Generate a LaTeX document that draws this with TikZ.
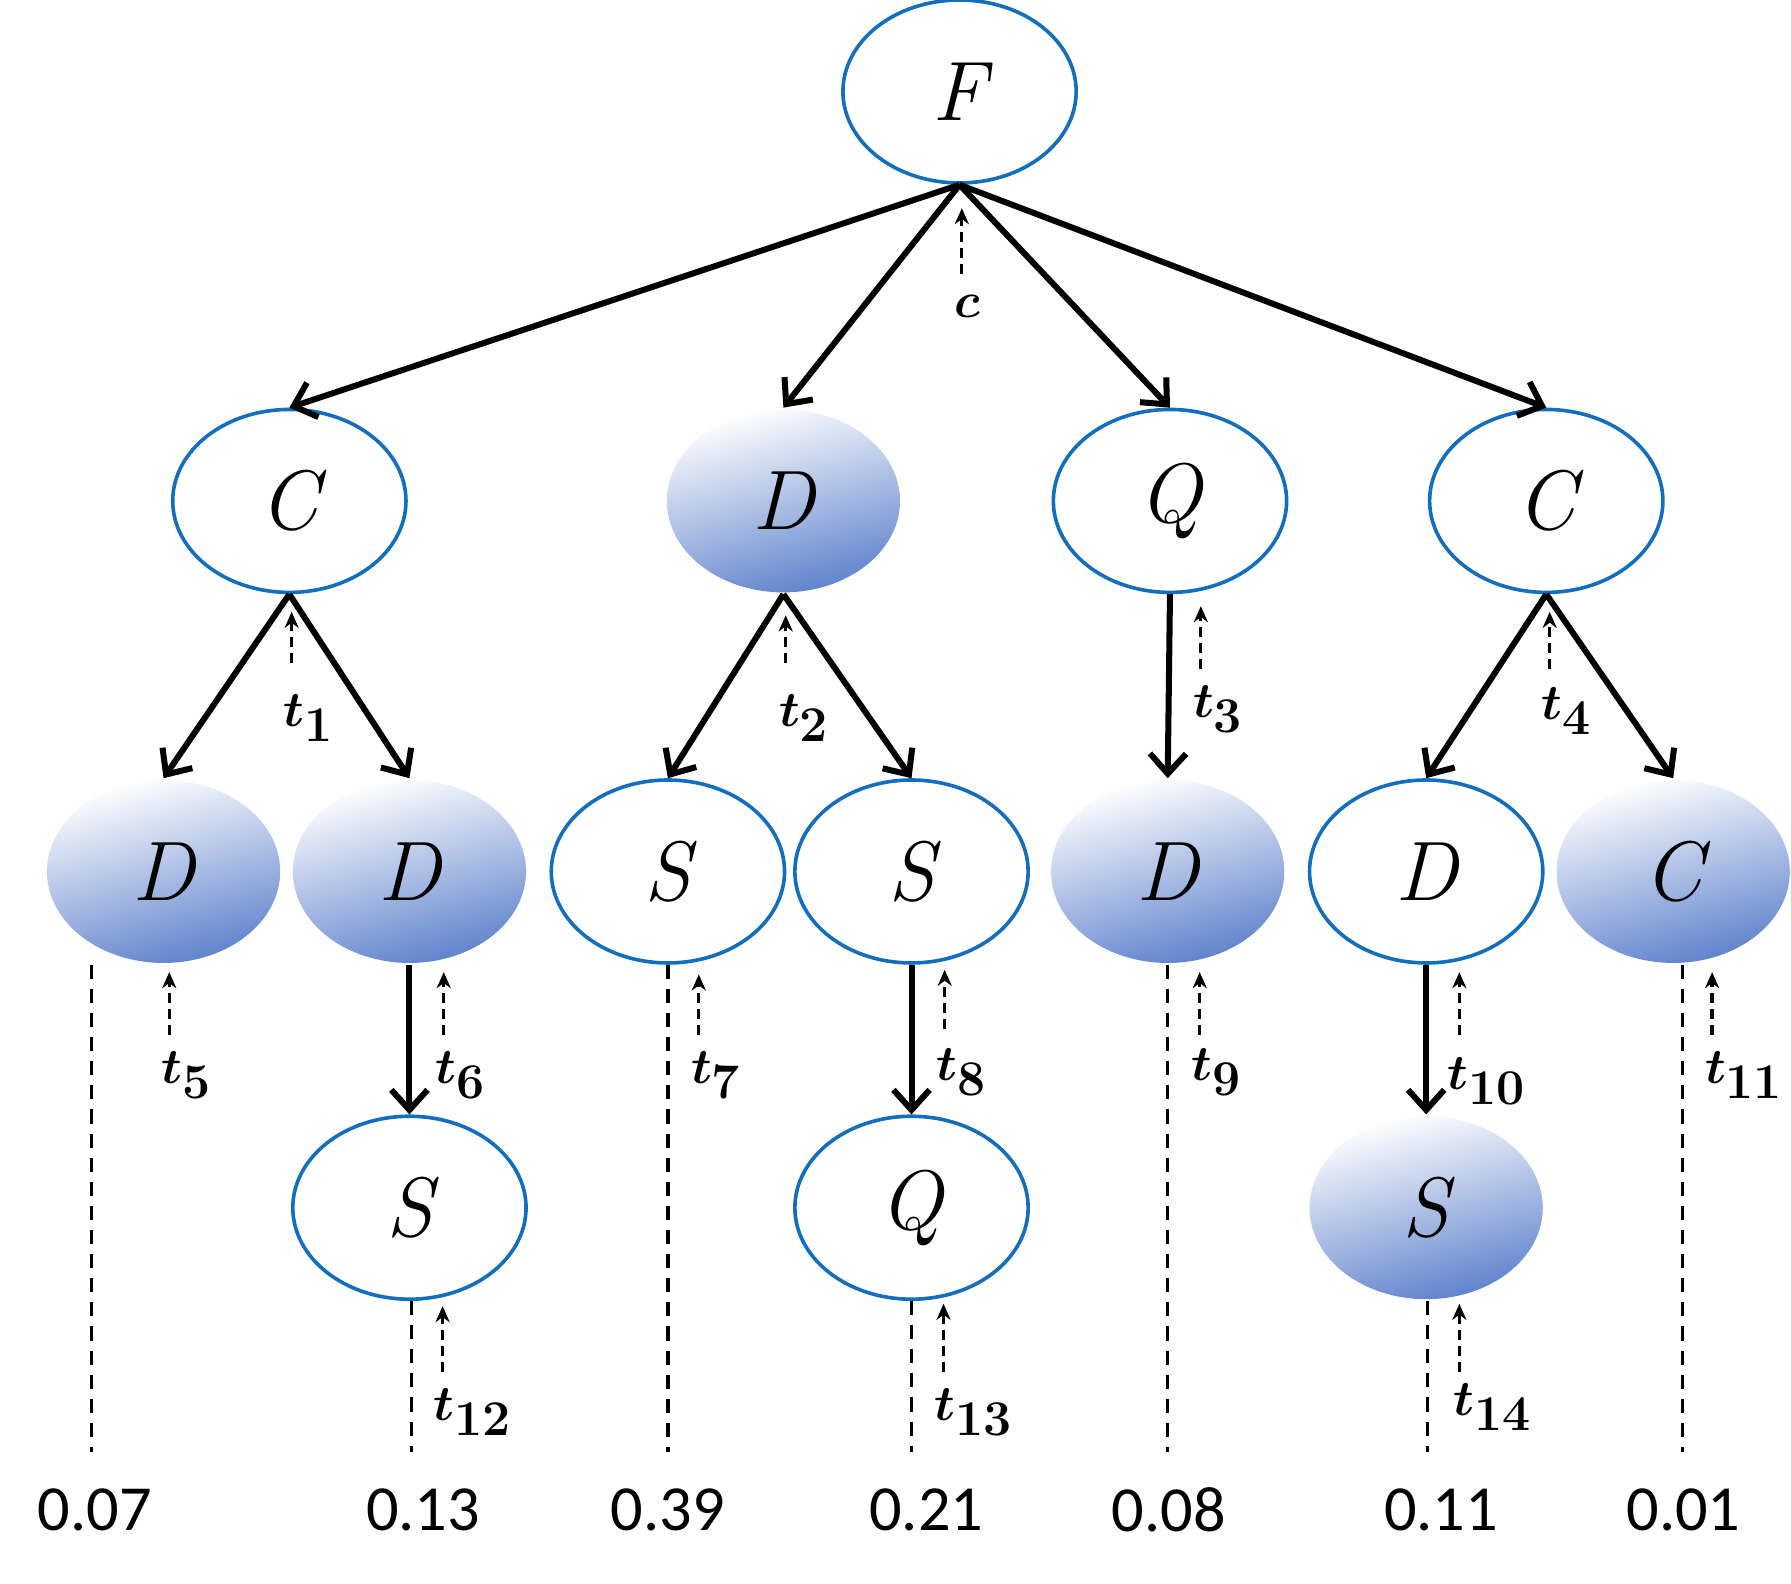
\documentclass[tikz,border=0pt]{standalone}
\usepackage{amsmath}
\usepackage{bm}
\usepackage{fontspec}
\newfontfamily\numfont{Carlito}
\usetikzlibrary{arrows.meta,shapes.geometric}
\definecolor{edgeblue}{RGB}{20,110,190}
\definecolor{fillblue}{RGB}{95,130,205}
\tikzset{
 el/.style={ellipse,draw=edgeblue,line width=1.8pt,minimum width=4.08cm,minimum height=3.2cm,inner sep=0pt,font=\fontsize{42}{48}\selectfont\itshape},
 sh/.style={el,draw=none,top color=white,bottom color=fillblue,shading angle=15},
 arr/.style={line width=3pt,-{Straight Barb[length=10pt,width=18pt,line width=3pt]}},
 tarr/.style={line width=1.6pt,dashed,dash pattern=on 5pt off 3pt,-{Stealth[length=8pt,width=7pt]}},
 dline/.style={line width=1.6pt,dash pattern=on 7pt off 5pt},
 tlab/.style={font=\fontsize{36}{42}\selectfont},
 num/.style={font=\fontsize{32}{38}\selectfont\numfont}
}
\begin{document}
\begin{tikzpicture}[x=0.02cm,y=-0.02cm]
\useasboundingbox (0,0) rectangle (1566,1385);
\node[el] (F) at (839,80) {F};
\node[el] (C1) at (253,438) {C};
\node[sh] (D1) at (685,438) {D};
\node[el] (Q1) at (1023,438) {Q};
\node[el] (C2) at (1352,438) {C};
\node[sh] (a) at (143,762) {D};
\node[sh] (b) at (358,762) {D};
\node[el] (c) at (584,762) {S};
\node[el] (d) at (797,762) {S};
\node[sh] (e) at (1021,762) {D};
\node[el] (f) at (1247,762) {D};
\node[sh] (g) at (1463,762) {C};
\node[el] (h) at (358,1056) {S};
\node[el] (i) at (797,1056) {Q};
\node[sh] (j) at (1247,1056) {S};
\foreach \s/\t in {F/C1,F/D1,F/Q1,F/C2,C1/a,C1/b,D1/c,D1/d,Q1/e,C2/f,C2/g,b/h,d/i,f/j}
  \draw[arr] (\s.south) -- (\t.north);
\foreach \n/\x/\k in {a/80/1,c/584/2,e/1021/3,g/1471/4,h/360/5,i/797/6,j/1248/7}
  {\coordinate (end\k) at (\x,1270); \draw[dline] (\n.south -| end\k) -- (end\k);}
\foreach \x/\v in {83/0.07,370/0.13,584/0.39,810/0.21,1022/0.08,1260/0.11,1472/0.01}
  \node[num] at (\x,1320) {\v};
\foreach \x/\ya/\yb/\lx/\ly/\l in {841/240/182/846/268/c,255/580/535/270/628/t_1,687/580/538/703/628/t_2,1050/585/530/1065/620/t_3,1355/585/535/1370/622/t_4,148/905/850/163/940/t_5,388/905/850/403/940/t_6,611/905/852/626/940/t_7,826/900/848/841/937/t_8,1049/905/850/1064/937/t_9,1276/905/850/1300/945/t_{10},1497/905/850/1525/940/t_{11},387/1200/1142/413/1235/t_{12},825/1200/1140/851/1235/t_{13},1276/1200/1140/1305/1230/t_{14}}
  {\draw[tarr] (\x,\ya) -- (\x,\yb); \node[tlab] at (\lx,\ly) {$\bm{\l}$};}
\end{tikzpicture}
\end{document}
